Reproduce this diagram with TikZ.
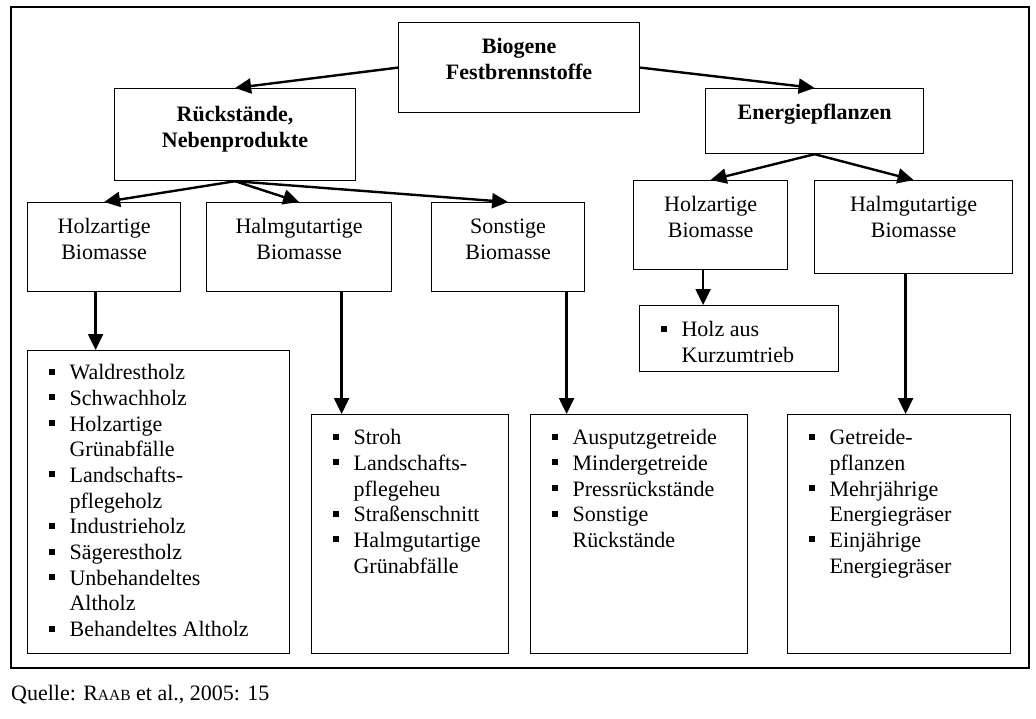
\documentclass[tikz,border=0pt]{standalone}
\usepackage{fontspec}
\setmainfont{Liberation Serif}
\usetikzlibrary{arrows.meta}

\newcommand\oben[1][31pt]{\rule{0pt}{#1}}
\newenvironment{punkte}{\begin{list}{\rule[5pt]{6pt}{6pt}}{%
    \setlength\leftmargin{42pt}\setlength\labelwidth{6pt}%
    \setlength\labelsep{15pt}\setlength\itemindent{0pt}%
    \setlength\itemsep{0pt}\setlength\parsep{0pt}%
    \setlength\topsep{0pt}\setlength\partopsep{0pt}}\raggedright}%
  {\end{list}}

\tikzset{
  kasten/.style 2 args={draw, line width=1.2pt, inner sep=0pt, anchor=north west,
    execute at begin node={\begin{minipage}[t][#2][t]{#1}},
    execute at end node={\end{minipage}}},
  pfeil/.style={line width=2.4pt, -{Triangle[length=16pt,width=15pt]}},
}

\begin{document}
\begin{tikzpicture}[x=1pt, y=-1pt, font=\fontsize{22}{25.7}\selectfont]
  \useasboundingbox (0,0) rectangle (1036,718);
  \draw[line width=2pt] (11,7) rectangle (1029,668);

  % obere Ebene
  \node[kasten={241pt}{90pt}] (biogen) at (398,22)
    {\centering\bfseries\oben Biogene\par Festbrennstoffe\par};
  \node[kasten={241pt}{92pt}] (rueck) at (114,88)
    {\centering\bfseries\oben[33pt]R\"uckst\"ande,\par Nebenprodukte\par};
  \node[kasten={218pt}{65pt}] (energie) at (705,88)
    {\centering\bfseries\oben Energiepflanzen\par};

  % Biomassearten
  \node[kasten={153pt}{89pt}] (holzR) at (27,202)
    {\centering\oben Holzartige\par Biomasse\par};
  \node[kasten={185pt}{89pt}] (halmR) at (206,202)
    {\centering\oben Halmgutartige\par Biomasse\par};
  \node[kasten={153pt}{89pt}] (sonst) at (431,202)
    {\centering\oben Sonstige\par Biomasse\par};
  \node[kasten={154pt}{89pt}] (holzE) at (633,180)
    {\centering\oben Holzartige\par Biomasse\par};
  \node[kasten={198pt}{93pt}] (halmE) at (814,180)
    {\centering\oben Halmgutartige\par Biomasse\par};

  % Listen
  \node[kasten={262pt}{303pt}] (listeHolz) at (27,350)
    {\begin{punkte}
      \item\oben[29pt]Waldrestholz
      \item Schwachholz
      \item Holzartige\\ Gr\"unabf\"alle
      \item Landschafts-\\ pflegeholz
      \item Industrieholz
      \item S\"agerestholz
      \item Unbehandeltes\\ Altholz
      \item Behandeltes Altholz
    \end{punkte}};
  \node[kasten={197pt}{239pt}] (listeHalm) at (311,414)
    {\begin{punkte}
      \item\oben[30pt]Stroh
      \item Landschafts-\\ pflegeheu
      \item Stra\ss enschnitt
      \item Halmgutartige\\ Gr\"unabf\"alle
    \end{punkte}};
  \node[kasten={217pt}{239pt}] (listeSonst) at (530,414)
    {\begin{punkte}
      \item\oben[30pt]Ausputzgetreide
      \item Mindergetreide
      \item Pressr\"uckst\"ande
      \item Sonstige\\ R\"uckst\"ande
    \end{punkte}};
  \node[kasten={199pt}{66pt}] (kurz) at (639,305)
    {\begin{punkte}
      \item\oben[31pt]Holz aus\\ Kurzumtrieb
    \end{punkte}};
  \node[kasten={223pt}{239pt}] (listeEnergie) at (787,414)
    {\begin{punkte}
      \item\oben[30pt]Getreide-\\ pflanzen
      \item Mehrj\"ahrige\\ Energiegr\"aser
      \item Einj\"ahrige\\ Energiegr\"aser
    \end{punkte}};

  \node[anchor=base west, inner sep=0pt] (quelle) at (11,700)
    {Quelle: R{\fontsize{15.5}{18}\selectfont AAB} et al., 2005: 15};

  % Pfeile
  \draw[pfeil] (biogen.west) -- (rueck.north);
  \draw[pfeil] (biogen.east) -- (energie.north);
  \foreach \z in {holzR, halmR, sonst}
    \draw[pfeil] (rueck.south) -- (\z.north);
  \foreach \z in {holzE, halmE}
    \draw[pfeil] (energie.south) -- (\z.north);
  \foreach \q/\d/\z in {holzR/-8.5/listeHolz, halmR/42.5/listeHalm,
      sonst/58.5/listeSonst, holzE/-7.5/kurz, halmE/-8/listeEnergie} {
    \coordinate (s) at ([xshift=\d pt]\q.south);
    \draw[pfeil] (s) -- (s |- \z.north);
  }
\end{tikzpicture}
\end{document}
